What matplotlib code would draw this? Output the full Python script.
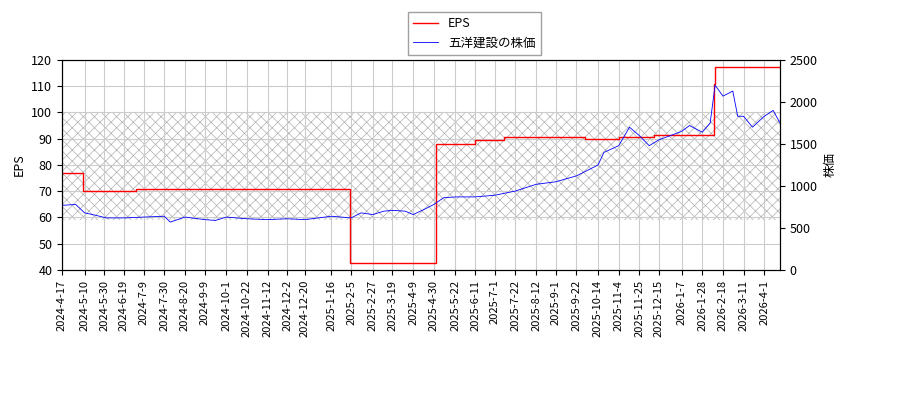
import numpy as np
import pandas as pd
import matplotlib
matplotlib.use("Agg")
from matplotlib import pyplot as plt

plt.rcParams['font.family'] = ['Noto Sans CJK JP', 'DejaVu Sans']
plt.rcParams['hatch.linewidth'] = 0.5

# stock price
price_dates = ["2024-4-17", "2024-5-1", "2024-5-10", "2024-5-20", "2024-6-1", "2024-6-19", "2024-7-9",
               "2024-7-30", "2024-8-5", "2024-8-20", "2024-9-9", "2024-9-20", "2024-10-1", "2024-10-22",
               "2024-11-12", "2024-12-2", "2024-12-20", "2025-1-16", "2025-2-5", "2025-2-15", "2025-2-27",
               "2025-3-10", "2025-3-19", "2025-4-1", "2025-4-9", "2025-4-20", "2025-4-30", "2025-5-10",
               "2025-5-22", "2025-6-11", "2025-7-1", "2025-7-22", "2025-8-12", "2025-9-1", "2025-9-22",
               "2025-10-14", "2025-10-20", "2025-11-4", "2025-11-15", "2025-11-25", "2025-12-5",
               "2025-12-15", "2026-1-7", "2026-1-15", "2026-1-28", "2026-2-5", "2026-2-10", "2026-2-18",
               "2026-2-28", "2026-3-5", "2026-3-11", "2026-3-20", "2026-4-1", "2026-4-10", "2026-4-17"]
price_vals = [770, 780, 680, 655, 620, 620, 630, 640, 570, 630, 600, 590, 630, 610, 600, 610, 600,
              640, 620, 680, 660, 700, 710, 700, 660, 720, 780, 860, 870, 870, 890, 940, 1020, 1050,
              1120, 1250, 1400, 1480, 1700, 1600, 1480, 1550, 1650, 1720, 1640, 1750, 2200, 2070, 2130,
              1830, 1830, 1700, 1830, 1900, 1750]

# EPS steps (start date, value)
eps_dates = ["2024-4-17", "2024-5-8", "2024-7-1", "2025-2-4", "2025-5-2", "2025-6-11", "2025-7-10",
             "2025-10-1", "2025-11-4", "2025-12-10", "2026-2-9", "2026-2-10", "2026-4-17"]
eps_vals = [77, 70, 71, 42.5, 88, 89.5, 90.5, 90, 90.5, 91.5, 111, 117.5, 117.5]

tick_labels = ["2024-4-17", "2024-5-10", "2024-5-30", "2024-6-19", "2024-7-9", "2024-7-30", "2024-8-20",
               "2024-9-9", "2024-10-1", "2024-10-22", "2024-11-12", "2024-12-2", "2024-12-20",
               "2025-1-16", "2025-2-5", "2025-2-27", "2025-3-19", "2025-4-9", "2025-4-30", "2025-5-22",
               "2025-6-11", "2025-7-1", "2025-7-22", "2025-8-12", "2025-9-1", "2025-9-22", "2025-10-14",
               "2025-11-4", "2025-11-25", "2025-12-15", "2026-1-7", "2026-1-28", "2026-2-18",
               "2026-3-11", "2026-4-1"]

pd_ = pd.to_datetime(price_dates)
ed = pd.to_datetime(eps_dates)
td = pd.to_datetime(tick_labels)

fig = plt.figure(figsize=(9, 4), dpi=100)
ax = fig.add_axes([62/900, 130/400, 718/900, 210/400])
ax2 = ax.twinx()

ax.axhspan(59, 100, facecolor='none', edgecolor='#b0b0b0', hatch='xxx', linewidth=0)
l1, = ax.step(ed, eps_vals, where='post', color='red', lw=1, label='EPS')
l2, = ax2.plot(pd_, price_vals, color='blue', lw=0.6, label='五洋建設の株価')

ax.set_ylim(40, 120)
ax2.set_ylim(0, 2500)
ax.set_xlim(pd_[0], pd_[-1])
ax.set_xticks(td)
ax.set_xticklabels(tick_labels, rotation=90, fontsize=8)
ax.tick_params(axis='y', labelsize=9)
ax2.tick_params(axis='y', labelsize=9)
ax.grid(True, color='#cccccc', lw=0.8)
ax.set_ylabel('EPS', fontsize=9)
ax2.set_ylabel('株価', fontsize=9)

fig.legend(handles=[l1, l2], loc='upper center', bbox_to_anchor=(0.527, 0.985), fontsize=9,
           fancybox=False, edgecolor='#888888')
fig.savefig('out.png')
